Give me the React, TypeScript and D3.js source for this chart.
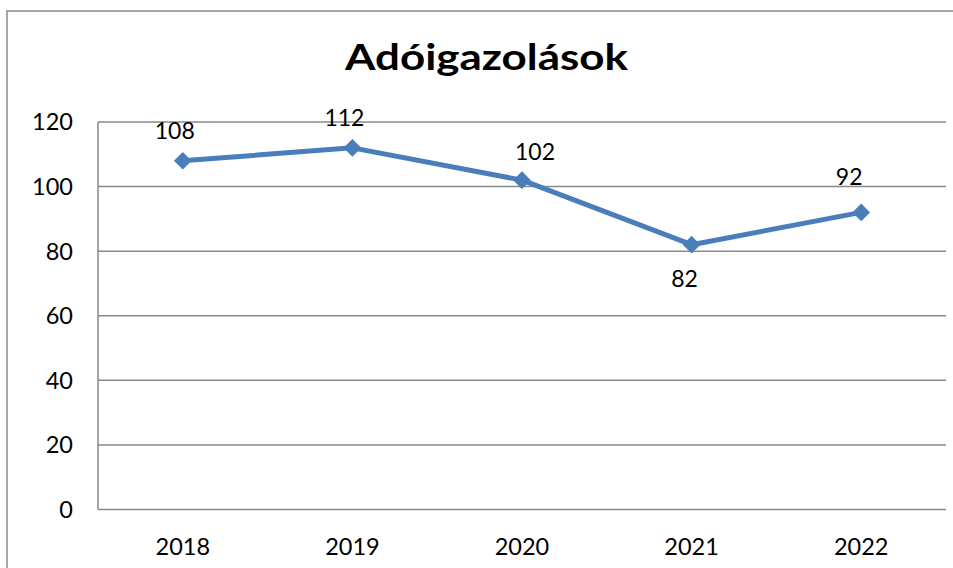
import React from "react";
import * as d3 from "d3";

const categories = ["2018", "2019", "2020", "2021", "2022"];
const values = [108, 112, 102, 82, 92];
const yTicks = [0, 20, 40, 60, 80, 100, 120];
const title = "Adóigazolások";

// label placement (dx from marker centre, dy baseline from marker)
const labelOffsets: [number, number][] = [
  [-8, -22],
  [-8, -22],
  [13, -20],
  [-7, 42],
  [-12, -27],
];

const W = 953;
const H = 568;
const margin = { left: 98, right: 7, top: 122, bottom: 58.5 };
const FONT = "Lato, 'Open Sans', sans-serif";
const GRID = "#898989";
const LINE = "#4A7EBB";

export default function App() {
  const x = d3
    .scaleBand<string>()
    .domain(categories)
    .range([margin.left, W - margin.right])
    .padding(0);
  const y = d3
    .scaleLinear()
    .domain([0, 120])
    .range([H - margin.bottom, margin.top]);

  const cx = (c: string) => (x(c) ?? 0) + x.bandwidth() / 2;

  const line = d3
    .line<number>()
    .x((_, i) => cx(categories[i]))
    .y((v) => y(v));

  const diamond = d3.symbol().type(d3.symbolDiamond2).size(200)();

  return (
    <svg
      width={W}
      height={H}
      style={{ position: "absolute", left: 0, top: 0, background: "#fff" }}
      fontFamily={FONT}
    >
      <rect x={7} y={11} width={W + 10} height={H + 10} fill="#fff" stroke={GRID} strokeWidth={1.5} />
      <text
        x={486.5}
        y={70}
        textAnchor="middle"
        fontSize={37}
        fontWeight="bold"
        fill="#000"
        textLength={283}
        lengthAdjust="spacingAndGlyphs"
      >
        {title}
      </text>
      {yTicks.map((t) => (
        <g key={t}>
          <line
            x1={margin.left}
            x2={W - margin.right}
            y1={y(t)}
            y2={y(t)}
            stroke={GRID}
            strokeWidth={1.5}
          />
          <text
            x={73}
            y={y(t)}
            dy="0.36em"
            textAnchor="end"
            fontSize={23.5}
            fill="#000"
          >
            {t}
          </text>
        </g>
      ))}
      <line
        x1={margin.left}
        x2={margin.left}
        y1={y(120)}
        y2={y(0)}
        stroke={GRID}
        strokeWidth={1.5}
      />
      {categories.map((c) => (
        <text key={c} x={cx(c)} y={555} textAnchor="middle" fontSize={23.5} fill="#000">
          {c}
        </text>
      ))}
      <path d={line(values) ?? ""} fill="none" stroke={LINE} strokeWidth={5} strokeLinejoin="round" />
      {values.map((v, i) => (
        <path
          key={i}
          d={diamond ?? ""}
          transform={`translate(${cx(categories[i])},${y(v)})`}
          fill={LINE}
        />
      ))}
      {values.map((v, i) => (
        <text
          key={"l" + i}
          x={cx(categories[i]) + labelOffsets[i][0]}
          y={y(v) + labelOffsets[i][1]}
          textAnchor="middle"
          fontSize={23}
          fill="#000"
        >
          {v}
        </text>
      ))}
    </svg>
  );
}
